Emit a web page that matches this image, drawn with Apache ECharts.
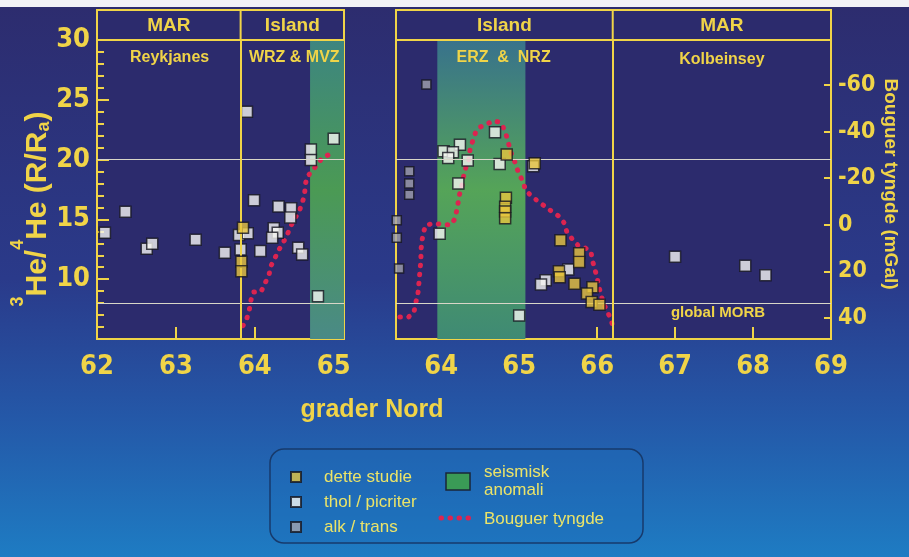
<!DOCTYPE html>
<html>
<head>
<meta charset="utf-8">
<script src="https://cdn.jsdelivr.net/npm/echarts@6.0.0/dist/echarts.min.js"></script>
<style>
html, body { margin: 0; padding: 0; background: #fff; }
#main { width: 909px; height: 557px; }
</style>
</head>
<body>
<div id="main"></div>
<script>
// [grader Nord, 3He/4He (R/Ra)]
const yellowLeft = [[63.85, 14.3], [63.83, 11.45], [63.83, 10.67]];
const whiteLeft = [
  [63.90, 24.0], [65.00, 21.74], [64.71, 20.84], [64.71, 19.97], [63.99, 16.6],
  [62.36, 15.63], [62.10, 13.89], [62.63, 12.55], [62.70, 12.97], [63.25, 13.3],
  [63.62, 12.21], [63.80, 13.7], [63.91, 13.84], [63.82, 12.49], [64.30, 16.08],
  [64.46, 15.94], [64.45, 15.15], [64.24, 14.26], [64.29, 13.89], [64.22, 13.47],
  [64.07, 12.35], [64.55, 12.63], [64.60, 12.07], [64.80, 8.57]
];
const yellowRight = [
  [64.84, 20.42], [65.20, 19.69], [64.83, 16.8], [64.82, 16.05], [64.82, 15.66],
  [64.82, 15.1], [65.53, 13.25], [65.77, 12.18], [65.77, 11.43], [65.51, 10.67],
  [65.52, 10.17], [65.71, 9.61], [65.94, 9.33], [65.87, 8.8], [65.93, 8.1], [66.03, 7.87]
];
const whiteRight = [
  [64.69, 22.29], [64.24, 21.24], [64.03, 20.7], [64.15, 20.61], [64.09, 20.14],
  [64.34, 19.92], [64.75, 19.64], [65.18, 19.45], [64.22, 18.0], [63.98, 13.81],
  [65.63, 10.81], [65.34, 9.92], [65.28, 9.55], [65.00, 6.97],
  [67.00, 11.87], [67.90, 11.12], [68.16, 10.34]
];
const greyRight = [
  [63.81, 26.28], [63.59, 19.02], [63.59, 18.0], [63.59, 17.06],
  [63.43, 14.93], [63.43, 13.47], [63.46, 10.9]
];

// Bouguer tyngde [grader Nord, mGal]
const bouguerLeft = [
  [63.85, 43.3], [63.90, 40.0], [63.93, 36.5], [63.95, 32.5], [63.98, 28.9],
  [64.08, 28.6], [64.13, 25.0], [64.18, 21.5], [64.20, 17.9], [64.25, 14.6],
  [64.30, 11.0], [64.36, 7.6], [64.41, 4.3], [64.45, 1.0], [64.50, -2.4],
  [64.56, -5.7], [64.60, -9.3], [64.63, -13.0], [64.64, -17.2], [64.66, -20.5],
  [64.74, -23.6], [64.80, -26.5], [64.87, -29.1], [64.97, -30.5]
];
const bouguerRight = [
  [63.47, 39.6], [63.58, 39.6], [63.65, 37.6], [63.67, 33.9], [63.70, 30.0],
  [63.71, 26.5], [63.72, 22.6], [63.73, 18.6], [63.74, 15.0], [63.74, 11.2],
  [63.75, 7.4], [63.77, 3.6], [63.80, 0.2], [63.91, -0.7], [64.02, 0.0],
  [64.13, 0.0], [64.18, -2.9], [64.20, -6.4], [64.22, -10.0], [64.24, -13.9],
  [64.27, -17.5], [64.29, -21.5], [64.32, -25.0], [64.36, -28.6], [64.37, -32.6],
  [64.41, -36.5], [64.44, -39.6], [64.49, -41.8], [64.59, -43.3], [64.67, -44.7],
  [64.76, -43.9], [64.82, -40.3], [64.85, -36.5], [64.88, -32.9], [64.91, -29.3],
  [64.96, -26.0], [64.99, -22.2], [65.05, -18.6], [65.08, -15.0], [65.14, -12.9],
  [65.23, -10.4], [65.32, -8.2], [65.42, -5.7], [65.50, -3.9], [65.58, -0.7],
  [65.61, 2.9], [65.68, 6.1], [65.76, 9.0], [65.85, 10.0], [65.92, 11.5],
  [65.94, 15.3], [65.97, 19.0], [66.00, 22.6], [66.02, 26.2], [66.05, 30.0],
  [66.08, 33.6], [66.13, 37.2], [66.18, 40.8], [66.20, 43.6]
];

// seismisk anomali (grader Nord range), panel limits and reference levels
const seismicLeft = [64.70, 65.13];
const seismicRight = [63.95, 65.08];
const xLeftTicks = [62, 63, 64, 65];
const xRightTicks = [64, 65, 66, 67, 68, 69];
const bouguerTicks = [-60, -40, -20, 0, 20, 40];
const heLevels = [20, 8];
const dividerLeft = 63.82;
const dividerRight = 66.2;

const YEL = '#f0d448';
const FONT = '"Liberation Sans Narrow", "DejaVu Sans Condensed", "Liberation Sans", sans-serif';
const TFONT = '"Liberation Sans", Arial, sans-serif';

const chart = echarts.init(document.getElementById('main'));

const greenBand = (top, mid, bottom) => ({
  type: 'linear', x: 0, y: 0, x2: 0, y2: 1,
  colorStops: [
    { offset: 0, color: top },
    { offset: 0.5, color: mid },
    { offset: 1, color: bottom }
  ]
});

const scatterStyle = (color) => ({
  color: color, borderColor: '#15151f', borderWidth: 1.5
});

const refLines = (divider) => ({
  silent: true,
  symbol: 'none',
  label: { show: false },
  data: [
    { yAxis: heLevels[0], lineStyle: { color: '#d8d6c8', width: 1, type: 'solid' } },
    { yAxis: heLevels[1], lineStyle: { color: '#d8d6c8', width: 1, type: 'solid' } },
    { xAxis: divider, lineStyle: { color: YEL, width: 2, type: 'solid' } }
  ]
});

const bouguerLine = {
  color: '#dc2450', width: 5, type: [0.5, 8.5], cap: 'round'
};

const xAxisBase = {
  type: 'value',
  axisLine: { onZero: false, lineStyle: { color: YEL, width: 2 } },
  splitLine: { show: false }
};

const option = {
  animation: false,
  backgroundColor: {
    type: 'linear', x: 0, y: 0, x2: 0, y2: 1,
    colorStops: [
      { offset: 0, color: '#2d2c6e' },
      { offset: 0.5, color: '#2a3a8a' },
      { offset: 0.75, color: '#2458a8' },
      { offset: 1, color: '#1e7cc3' }
    ]
  },
  grid: [
    { left: 97, top: 40, width: 247, height: 299, show: true,
      backgroundColor: '#2c2b6d', borderColor: YEL, borderWidth: 2 },
    { left: 396, top: 40, width: 435, height: 299, show: true,
      backgroundColor: '#2c2b6d', borderColor: YEL, borderWidth: 2 }
  ],
  legend: {
    data: ['dette studie', 'thol / picriter', 'alk / trans'],
    orient: 'vertical',
    left: 285, top: 462,
    itemWidth: 10, itemHeight: 10, itemGap: 5,
    selectedMode: false,
    icon: 'rect',
    textStyle: { color: '#ece468', fontSize: 17, fontFamily: TFONT, lineHeight: 20, padding: [0, 0, 0, 18] }
  },
  xAxis: [
    Object.assign({}, xAxisBase, {
      gridIndex: 0, min: 62, max: 65.13,
      axisTick: { inside: true, length: 12, customValues: [63, 64, 65], lineStyle: { color: YEL, width: 2 } },
      axisLabel: { customValues: xLeftTicks, color: YEL, fontSize: 27, fontWeight: 'bold', fontFamily: FONT, margin: 14 }
    }),
    Object.assign({}, xAxisBase, {
      gridIndex: 1, min: 63.42, max: 69,
      axisTick: { inside: true, length: 12, customValues: [64, 65, 66, 67, 68], lineStyle: { color: YEL, width: 2 } },
      axisLabel: { customValues: xRightTicks, color: YEL, fontSize: 27, fontWeight: 'bold', fontFamily: FONT, margin: 14 }
    })
  ],
  yAxis: [
    {
      gridIndex: 0, type: 'value', min: 5, max: 30, interval: 5,
      axisLine: { onZero: false, lineStyle: { color: YEL, width: 2 } },
      axisTick: { inside: true, length: 12, lineStyle: { color: YEL, width: 2 } },
      minorTick: { show: true, splitNumber: 5, length: 7, lineStyle: { color: YEL, width: 2 } },
      axisLabel: { showMinLabel: false, color: YEL, fontSize: 27, fontWeight: 'bold', fontFamily: FONT, margin: 7 },
      splitLine: { show: false }
    },
    {
      gridIndex: 0, type: 'value', min: -79.3, max: 49, inverse: true, show: false
    },
    {
      gridIndex: 1, type: 'value', min: 5, max: 30, show: false
    },
    {
      gridIndex: 1, type: 'value', min: -79.3, max: 49, inverse: true, position: 'right',
      axisLine: { show: true, onZero: false, lineStyle: { color: YEL, width: 2 } },
      axisTick: { inside: true, length: 7, customValues: bouguerTicks, lineStyle: { color: YEL, width: 2 } },
      axisLabel: { customValues: bouguerTicks, color: YEL, fontSize: 23, fontWeight: 'bold', fontFamily: FONT, margin: 7 },
      splitLine: { show: false }
    }
  ],
  series: [
    {
      name: 'Bouguer tyngde', type: 'line', xAxisIndex: 0, yAxisIndex: 1,
      data: bouguerLeft, symbol: 'none', lineStyle: bouguerLine, z: 3,
      markArea: {
        silent: true,
        itemStyle: { color: greenBand('#3d8580', '#4b9a54', '#4a8a86') },
        data: [[{ xAxis: seismicLeft[0] }, { xAxis: seismicLeft[1] }]]
      }
    },
    {
      name: 'Bouguer tyngde', type: 'line', xAxisIndex: 1, yAxisIndex: 3,
      data: bouguerRight, symbol: 'none', lineStyle: bouguerLine, z: 3,
      markArea: {
        silent: true,
        itemStyle: { color: greenBand('#38728c', '#55a458', '#3f8a74') },
        data: [[{ xAxis: seismicRight[0] }, { xAxis: seismicRight[1] }]]
      }
    },
    {
      name: 'thol / picriter', type: 'scatter', xAxisIndex: 0, yAxisIndex: 0,
      data: whiteLeft, symbol: 'rect', symbolSize: 11, z: 4,
      itemStyle: scatterStyle('#f6f6f2'), markLine: refLines(dividerLeft)
    },
    {
      name: 'dette studie', type: 'scatter', xAxisIndex: 0, yAxisIndex: 0,
      data: yellowLeft, symbol: 'rect', symbolSize: 11, z: 5,
      itemStyle: scatterStyle('#e8c63e')
    },
    {
      name: 'thol / picriter', type: 'scatter', xAxisIndex: 1, yAxisIndex: 2,
      data: whiteRight, symbol: 'rect', symbolSize: 11, z: 4,
      itemStyle: scatterStyle('#f6f6f2'), markLine: refLines(dividerRight)
    },
    {
      name: 'dette studie', type: 'scatter', xAxisIndex: 1, yAxisIndex: 2,
      data: yellowRight, symbol: 'rect', symbolSize: 11, z: 5,
      itemStyle: scatterStyle('#e8c63e')
    },
    {
      name: 'alk / trans', type: 'scatter', xAxisIndex: 1, yAxisIndex: 2,
      data: greyRight, symbol: 'rect', symbolSize: 9, z: 4,
      itemStyle: scatterStyle('#a2a2ac')
    }
  ]
};

chart.setOption(option);

// header boxes, axis names, region names and the second legend column
const px = (axis, v) => chart.convertToPixel({ xAxisIndex: axis }, v);
const headTop = 10, headBottom = 40;

function txt(text, x, y, size, weight, family) {
  return {
    type: 'text', z: 20, silent: true,
    style: {
      text: text, x: x, y: y, fill: YEL,
      fontSize: size, fontWeight: weight || 'bold', fontFamily: family || TFONT,
      align: 'center', verticalAlign: 'middle'
    }
  };
}

function header(axis, x0, x1, xd, left, right) {
  const a = px(axis, x0), b = px(axis, x1), d = px(axis, xd);
  return [
    { type: 'rect', z: 19, silent: true,
      shape: { x: a, y: headTop, width: b - a, height: headBottom - headTop },
      style: { fill: '#2c2b6d', stroke: YEL, lineWidth: 2 } },
    { type: 'line', z: 19, silent: true,
      shape: { x1: d, y1: headTop, x2: d, y2: headBottom },
      style: { stroke: YEL, lineWidth: 2 } },
    txt(left, (a + d) / 2, 26, 19),
    txt(right, (d + b) / 2, 26, 19)
  ];
}

const graphics = [
  { type: 'rect', silent: true, shape: { x: 0, y: 0, width: 909, height: 7 }, style: { fill: '#f2f2f6' } },
  ...header(0, 62, 65.13, dividerLeft, 'MAR', 'Island'),
  ...header(1, 63.42, 69, dividerRight, 'Island', 'MAR'),
  txt('Reykjanes', px(0, 62.92), 58, 16),
  txt('WRZ & MVZ', px(0, 64.5), 58, 16),
  txt('ERZ  &  NRZ', px(1, 64.8), 58, 16),
  txt('Kolbeinsey', px(1, 67.6), 60, 16),
  txt('global MORB', px(1, 67.55), 313, 15),
  txt('grader Nord', 372, 410, 25),
  {
    type: 'text', z: 20, silent: true, x: 31, y: 209, rotation: Math.PI / 2,
    style: {
      text: '{s|3}{b|He/}{s|4}{b|He (R/R}{u|a}{b|)}',
      align: 'center', verticalAlign: 'middle',
      rich: {
        b: { fontSize: 30, fontWeight: 'bold', fill: YEL, fontFamily: TFONT, lineHeight: 44, verticalAlign: 'bottom' },
        s: { fontSize: 18, fontWeight: 'bold', fill: YEL, fontFamily: TFONT, lineHeight: 44, verticalAlign: 'top' },
        u: { fontSize: 18, fontWeight: 'bold', fill: YEL, fontFamily: TFONT, lineHeight: 44, verticalAlign: 'bottom' }
      }
    }
  },
  {
    type: 'text', z: 20, silent: true, x: 890, y: 184, rotation: -Math.PI / 2,
    style: {
      text: 'Bouguer tyngde (mGal)', fill: YEL, fontSize: 19, fontWeight: 'bold', fontFamily: TFONT,
      align: 'center', verticalAlign: 'middle'
    }
  },
  { type: 'rect', z: 1, silent: true,
    shape: { x: 270, y: 449, width: 373, height: 94, r: 14 },
    style: { fill: 'rgba(30,110,185,0.35)', stroke: '#173a6c', lineWidth: 1.5 } },
  { type: 'rect', z: 21, silent: true,
    shape: { x: 446, y: 473, width: 24, height: 17 },
    style: { fill: '#3a9a56', stroke: '#1a2638', lineWidth: 1.5 } },
  { type: 'text', z: 21, silent: true,
    style: { text: 'seismisk\nanomali', x: 484, y: 481, fill: '#ece468', fontSize: 17, fontFamily: TFONT,
      lineHeight: 18, align: 'left', verticalAlign: 'middle' } },
  { type: 'line', z: 21, silent: true,
    shape: { x1: 441, y1: 518, x2: 476, y2: 518 },
    style: { stroke: '#dc2450', lineWidth: 5, lineDash: [0.5, 8.5], lineCap: 'round' } },
  { type: 'text', z: 21, silent: true,
    style: { text: 'Bouguer tyngde', x: 484, y: 519, fill: '#ece468', fontSize: 17, fontFamily: TFONT,
      align: 'left', verticalAlign: 'middle' } }
];

chart.setOption({ graphic: graphics });
</script>
</body>
</html>
